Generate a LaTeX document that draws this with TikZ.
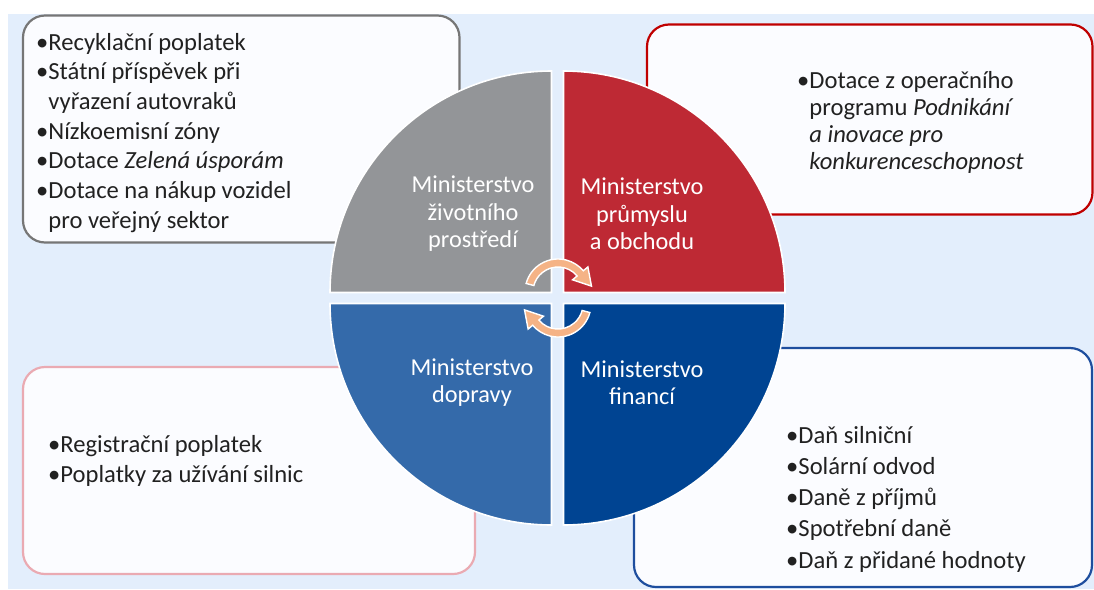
\documentclass[tikz,border=0pt]{standalone}
\usepackage{fontspec}
\setmainfont{Carlito}
\usetikzlibrary{positioning}

\definecolor{pozadi}{RGB}{227,238,252}
\definecolor{boxfill}{RGB}{251,252,255}
\definecolor{textgray}{RGB}{33,33,33}
\definecolor{zpgray}{RGB}{147,149,152}
\definecolor{zpline}{RGB}{118,118,118}
\definecolor{mpored}{RGB}{190,41,52}
\definecolor{mpoline}{RGB}{192,0,0}
\definecolor{mdblue}{RGB}{52,106,170}
\definecolor{mdline}{RGB}{234,170,178}
\definecolor{mfblue}{RGB}{0,68,146}
\definecolor{mfline}{RGB}{30,78,158}
\definecolor{peach}{RGB}{245,179,134}

\newcommand{\odr}{\textbullet}
\newcommand{\pokr}{\hphantom{\textbullet}}

\begin{document}
\begin{tikzpicture}[
  x=1pt, y=1pt,
  every node/.style={inner sep=0pt},
  infobox/.style={rounded corners=22pt, fill=boxfill, line width=2.2pt},
  seznam/.style={align=left, text=textgray, anchor=base west},
  ministr/.style={align=center, text=white, font=\fontsize{24.3}{27.5}\selectfont},
  kvadrant/.style={draw=white, line width=1.6pt},
  sipka/.style={fill=peach, draw=white, line width=1.4pt},
]
\useasboundingbox (0,0) rectangle (1094,-589);
\fill[pozadi] (8,-14) rectangle (1094,-589);

% boxes
\draw[infobox, draw=zpline] (23,-15.5) rectangle (459.5,-242.5);
\draw[infobox, draw=mpoline] (647,-24.5) rectangle (1092.5,-214.5);
\draw[infobox, draw=mdline] (23,-367) rectangle (475,-574);
\draw[infobox, draw=mfline] (634,-348) rectangle (1092,-587);

% circle
\coordinate (stred) at (557.5,-298);
\path[kvadrant, fill=zpgray] ([shift={(-6,5.5)}]stred) -- ++(-221.5,0)
  arc[start angle=180, end angle=90, radius=221.5] -- cycle;
\path[kvadrant, fill=mpored] ([shift={(6,5.5)}]stred) -- ++(221.5,0)
  arc[start angle=0, end angle=90, radius=221.5] -- cycle;
\path[kvadrant, fill=mdblue] ([shift={(-6,-5.5)}]stred) -- ++(-221.5,0)
  arc[start angle=180, end angle=270, radius=221.5] -- cycle;
\path[kvadrant, fill=mfblue] ([shift={(6,-5.5)}]stred) -- ++(221.5,0)
  arc[start angle=0, end angle=-90, radius=221.5] -- cycle;

% arrows
\begin{scope}[shift={(558,-292)}]
\path[sipka] (165:33) arc[start angle=165, end angle=40, radius=33]
  -- (40:39) -- (10:34) -- (40:19) -- (40:25)
  arc[start angle=40, end angle=165, radius=25] -- cycle;
\end{scope}
\begin{scope}[shift={(558,-304)}]
\path[sipka] (-15:33) arc[start angle=-15, end angle=-140, radius=33]
  -- (-140:39) -- (-170:34) -- (-140:19) -- (-140:25)
  arc[start angle=-140, end angle=-15, radius=25] -- cycle;
\end{scope}

% ministries
\node[ministr] (mzp) at (473,-214) {Ministerstvo\\životního\\prostředí};
\node[ministr] (mpo) at (642,-214) {Ministerstvo\\průmyslu\\a obchodu};
\node[ministr] (md) at (472,-382.5) {Ministerstvo\\dopravy};
\node[ministr] (mf) at (642,-382.5) {Ministerstvo\\financí};

% lists (anchored at the baseline of the last line)
\node[seznam, font=\fontsize{24.6}{29.7}\selectfont] (zpseznam) at (36,-228.2)
  {\odr Recyklační poplatek\\
   \odr Státní příspěvek při\\
   \pokr vyřazení autovraků\\
   \odr Nízkoemisní zóny\\
   \odr Dotace \textit{Zelená úsporám}\\
   \odr Dotace na nákup vozidel\\
   \pokr pro veřejný sektor};
\node[seznam, font=\fontsize{24.6}{27}\selectfont] (mposeznam) at (797,-169)
  {\odr Dotace z operačního\\
   \pokr programu \textit{Podnikání}\\
   \pokr \textit{a inovace pro}\\
   \pokr \textit{konkurenceschopnost}};
\node[seznam, font=\fontsize{24.6}{30}\selectfont] (mdseznam) at (48,-482)
  {\odr Registrační poplatek\\
   \odr Poplatky za užívání silnic};
\node[seznam, font=\fontsize{24.6}{31.3}\selectfont] (mfseznam) at (786,-568.2)
  {\odr Daň silniční\\
   \odr Solární odvod\\
   \odr Daně z příjmů\\
   \odr Spotřební daně\\
   \odr Daň z přidané hodnoty};
\end{tikzpicture}
\end{document}
